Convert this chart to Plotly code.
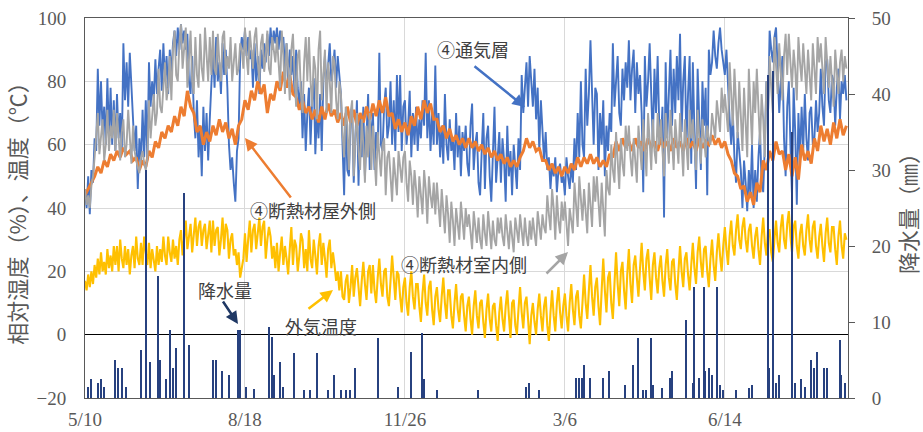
import pandas as pd
import plotly.graph_objects as go

# ---------------- data ----------------
start_date = "2018-05-10"

# daily readings from 5/10 (④通気層, %)
vent_layer = [
    45, 40, 50, 38, 52, 48, 62, 58, 84, 66, 80, 64, 72, 60, 81, 62, 78, 60, 74, 58,
    76, 62, 70, 58, 92, 74, 86, 72, 89, 78, 70, 58, 66, 46, 62, 54, 71, 56, 74, 55,
    86, 72, 80, 74, 87, 76, 84, 90, 77, 92, 80, 88, 76, 90, 82, 92, 96, 88, 97, 90,
    98, 92, 96, 90, 95, 80, 76, 88, 70, 62, 74, 56, 66, 50, 72, 58, 70, 55, 68, 80,
    90, 78, 94, 80, 86, 76, 92, 82, 90, 78, 60, 52, 56, 48, 42, 58, 62, 88, 94, 90,
    96, 88, 94, 87, 90, 78, 92, 80, 88, 76, 90, 84, 92, 86, 95, 88, 97, 90, 96, 92,
    97, 90, 96, 92, 94, 84, 92, 80, 90, 82, 88, 76, 90, 78, 72, 80, 62, 76, 58, 70,
    78, 60, 74, 81, 57, 70, 62, 76, 58, 80, 88, 78, 86, 92, 80, 84, 90, 78, 88, 82,
    76, 60, 44, 70, 52, 50, 68, 71, 48, 62, 74, 47, 70, 56, 72, 50, 66, 76, 52, 64,
    70, 52, 64, 58, 89, 60, 58, 72, 78, 62, 66, 80, 60, 74, 58, 82, 64, 82, 58, 72,
    74, 60, 66, 77, 56, 70, 60, 72, 58, 68, 62, 74, 66, 89, 62, 74, 58, 70, 60, 85,
    60, 70, 56, 66, 54, 76, 60, 55, 68, 58, 62, 52, 70, 56, 66, 50, 64, 58, 66, 54,
    50, 66, 73, 52, 60, 64, 48, 44, 58, 70, 46, 62, 66, 50, 42, 60, 72, 48, 56, 64,
    48, 62, 55, 42, 66, 50, 58, 44, 60, 52, 46, 62, 52, 82, 70, 78, 86, 72, 88, 80,
    72, 84, 68, 78, 58, 74, 62, 55, 64, 52, 56, 46, 54, 50, 56, 45, 52, 54, 48, 50,
    44, 56, 50, 46, 54, 48, 62, 52, 70, 56, 80, 60, 56, 84, 66, 76, 93, 72, 60, 78,
    76, 52, 70, 60, 74, 50, 66, 58, 70, 64, 92, 72, 80, 88, 70, 66, 84, 74, 86, 78,
    93, 74, 84, 90, 70, 86, 76, 82, 70, 45, 88, 72, 80, 92, 76, 60, 84, 70, 88, 66,
    60, 72, 37, 86, 62, 78, 90, 66, 84, 70, 88, 74, 95, 64, 80, 88, 60, 76, 88, 54,
    86, 64, 46, 84, 70, 52, 80, 66, 78, 44, 90, 82, 86, 96, 88, 84, 92, 97, 90, 86,
    82, 90, 76, 68, 60, 70, 56, 48, 64, 58, 52, 40, 55, 48, 39, 52, 44, 60, 40, 52,
    42, 56, 64, 48, 45, 60, 80, 70, 96, 90, 86, 94, 97, 84, 70, 80, 88, 62, 50, 72,
    80, 60, 44, 78, 64, 41, 70, 56, 72, 58, 76, 62, 55, 70, 72, 60, 62, 74, 64, 70,
    84, 72, 66, 86, 87, 74, 70, 82, 80, 66, 78, 84, 68, 80, 76, 82, 74,
]

# daily readings from 5/10 (④断熱材室内側, %)
insul_inner = [
    46, 41, 44, 40, 47, 50, 56, 62, 70, 57, 64, 68, 55, 60, 71, 58, 66, 62, 71, 58,
    70, 62, 55, 64, 68, 56, 60, 71, 62, 54, 66, 58, 55, 53, 51, 56, 58, 54, 52, 56,
    74, 62, 68, 76, 66, 70, 84, 72, 70, 80, 86, 74, 78, 88, 74, 90, 96, 82, 80, 92,
    98, 84, 90, 97, 78, 88, 96, 80, 76, 94, 82, 78, 95, 84, 80, 97, 86, 80, 94, 82,
    96, 84, 82, 95, 86, 80, 94, 96, 82, 88, 84, 94, 80, 86, 92, 82, 84, 92, 90, 84,
    97, 88, 82, 96, 90, 84, 94, 97, 86, 80, 92, 95, 83, 88, 96, 84, 82, 94, 90, 86,
    94, 84, 78, 96, 88, 76, 92, 84, 74, 90, 95, 82, 72, 88, 90, 76, 70, 86, 94, 80,
    94, 80, 72, 88, 84, 68, 90, 96, 74, 82, 90, 70, 86, 80, 70, 88, 86, 74, 68, 80,
    76, 64, 56, 72, 66, 52, 70, 74, 50, 62, 70, 58, 52, 68, 60, 48, 66, 56, 70, 52,
    66, 56, 47, 64, 58, 50, 60, 62, 44, 56, 58, 50, 42, 56, 50, 44, 58, 52, 48, 56,
    58, 48, 42, 55, 50, 41, 52, 46, 37, 50, 44, 38, 52, 46, 35, 50, 44, 40, 48, 38,
    48, 40, 34, 46, 40, 32, 44, 38, 29, 42, 36, 28, 40, 34, 30, 42, 36, 30, 40, 34,
    38, 32, 27, 39, 34, 29, 37, 30, 27, 38, 32, 28, 39, 34, 27, 36, 30, 28, 37, 32,
    37, 31, 28, 38, 33, 27, 36, 30, 26, 37, 32, 29, 38, 33, 28, 37, 31, 28, 36, 30,
    37, 32, 28, 39, 34, 30, 38, 34, 32, 44, 38, 33, 46, 40, 30, 44, 36, 32, 42, 36,
    42, 34, 28, 40, 36, 32, 48, 40, 34, 50, 42, 36, 46, 40, 32, 48, 40, 34, 50, 42,
    50, 40, 34, 48, 40, 31, 52, 46, 44, 60, 52, 48, 64, 56, 46, 62, 54, 50, 66, 58,
    66, 56, 50, 62, 56, 48, 66, 58, 52, 68, 60, 50, 70, 62, 52, 68, 58, 54, 70, 60,
    68, 58, 50, 70, 62, 54, 71, 62, 52, 68, 60, 54, 70, 60, 50, 68, 60, 52, 71, 62,
    68, 60, 52, 71, 64, 54, 68, 62, 56, 66, 62, 60, 70, 66, 62, 74, 68, 64, 78, 70,
    76, 70, 64, 86, 76, 66, 84, 74, 62, 80, 70, 58, 78, 68, 56, 84, 74, 60, 80, 70,
    84, 72, 60, 76, 68, 56, 80, 70, 88, 78, 70, 94, 86, 76, 92, 84, 74, 88, 95, 82,
    95, 86, 78, 90, 84, 74, 94, 86, 80, 92, 84, 76, 90, 82, 74, 92, 84, 76, 94, 86,
    92, 84, 76, 94, 86, 78, 88, 80, 72, 90, 82, 76, 86, 90, 80, 88, 84,
]

# daily readings from 5/10 (外気温度, ℃)
outdoor_temp = [
    17, 14, 19, 15, 20, 16, 22, 18, 24, 19, 26, 20, 23, 19, 27, 21, 25, 20, 28, 22,
    28, 20, 30, 24, 21, 28, 22, 27, 19, 25, 28, 21, 31, 24, 22, 29, 22, 31, 26, 22,
    29, 21, 27, 24, 20, 28, 22, 27, 23, 31, 25, 22, 31, 26, 23, 30, 24, 28, 22, 30,
    33, 25, 30, 36, 27, 32, 35, 26, 31, 37, 28, 34, 36, 28, 33, 35, 27, 32, 36, 26,
    36, 28, 33, 34, 25, 30, 37, 27, 35, 33, 24, 30, 32, 25, 27, 22, 26, 18, 21, 24,
    32, 23, 30, 36, 26, 33, 35, 27, 32, 37, 28, 34, 36, 24, 30, 34, 31, 24, 28, 21,
    29, 20, 26, 31, 22, 28, 24, 19, 27, 34, 22, 30, 28, 20, 25, 32, 30, 21, 27, 20,
    33, 24, 21, 30, 25, 19, 28, 32, 22, 29, 24, 18, 27, 30, 21, 26, 22, 17, 20, 14,
    20, 12, 11, 17, 19, 10, 15, 22, 12, 18, 21, 14, 9, 17, 23, 16, 11, 20, 22, 13,
    22, 14, 10, 18, 24, 16, 12, 20, 21, 12, 9, 17, 25, 18, 11, 20, 19, 12, 7, 15,
    18, 10, 6, 15, 20, 12, 8, 16, 16, 9, 4, 13, 19, 10, 6, 15, 17, 8, 3, 12,
    15, 8, 4, 12, 18, 10, 5, 14, 14, 6, 2, 10, 16, 8, 4, 12, 13, 6, 1, 9,
    12, 5, 0, 9, 14, 6, 2, 10, 11, 4, -1, 8, 13, 5, 1, 9, 10, 3, -2, 7,
    12, 5, 1, 9, 14, 6, -1, 10, 11, 3, 0, 8, 15, 7, 2, 10, 12, 5, -3, 6,
    10, 4, 0, 8, 13, 6, 1, 9, 12, 3, -2, 7, 14, 6, 1, 10, 15, 7, 2, 9,
    13, 6, 1, 10, 16, 8, 3, 12, 14, 6, 2, 10, 19, 10, 5, 14, 22, 12, 6, 15,
    18, 9, 3, 14, 24, 14, 7, 18, 20, 10, 5, 16, 26, 16, 9, 20, 23, 14, 8, 19,
    27, 16, 10, 22, 25, 18, 12, 21, 29, 20, 14, 24, 27, 18, 11, 22, 26, 18, 13, 21,
    25, 17, 12, 22, 27, 18, 14, 23, 24, 16, 11, 20, 28, 20, 15, 24, 26, 19, 14, 22,
    29, 21, 16, 26, 31, 23, 18, 27, 28, 20, 15, 24, 30, 22, 17, 26, 32, 25, 20, 28,
    34, 27, 22, 31, 36, 28, 25, 33, 38, 30, 27, 34, 37, 30, 26, 33, 35, 28, 24, 31,
    34, 27, 22, 31, 37, 29, 25, 33, 33, 26, 23, 30, 36, 29, 26, 34, 38, 30, 27, 35,
    39, 31, 26, 34, 36, 28, 24, 32, 35, 28, 25, 33, 38, 30, 26, 34, 36, 28, 24, 31,
    35, 28, 23, 32, 37, 29, 26, 34, 34, 27, 22, 31, 36, 28, 24, 32, 30,
]

# readings every 2 days from 5/10 (④断熱材屋外側, %)
insul_outer = [
    44, 46, 48, 50, 53, 51, 55, 53, 57, 55,
    58, 56, 59, 57, 58, 55, 56, 52, 55, 53,
    58, 56, 61, 59, 64, 62, 66, 64, 69, 66,
    72, 69, 77, 72, 70, 64, 66, 60, 64, 61,
    66, 63, 68, 64, 67, 62, 65, 60, 66, 68,
    74, 71, 77, 74, 80, 76, 79, 70, 76, 74,
    80, 77, 83, 78, 82, 76, 75, 71, 74, 70,
    72, 68, 71, 67, 72, 68, 73, 69, 71, 67,
    70, 66, 72, 67, 71, 66, 70, 67, 72, 68,
    73, 69, 74, 70, 75, 69, 70, 65, 68, 64,
    67, 63, 69, 66, 72, 68, 74, 70, 73, 68,
    68, 64, 66, 62, 65, 61, 63, 60, 62, 59,
    62, 59, 61, 58, 60, 57, 59, 56, 58, 55,
    57, 54, 56, 53, 55, 53, 56, 58, 62, 59,
    61, 58, 59, 55, 55, 52, 54, 51, 53, 50,
    53, 51, 54, 52, 56, 53, 56, 54, 57, 54,
    56, 53, 55, 53, 57, 56, 61, 58, 62, 59,
    61, 58, 62, 59, 61, 58, 62, 59, 61, 58,
    62, 59, 61, 58, 62, 59, 61, 58, 62, 59,
    61, 58, 62, 59, 61, 60, 63, 60, 62, 59,
    61, 57, 55, 51, 50, 46, 47, 42, 45, 41,
    48, 45, 55, 52, 58, 55, 61, 57, 58, 52,
    57, 50, 56, 49, 60, 55, 58, 54, 62, 58,
    66, 61, 65, 60, 67, 62, 68, 63, 66,
]

rain_day = [  # days after 5/10
    2, 4, 8, 10, 12, 19, 21, 23, 26, 35, 38, 41, 46, 47, 51, 53, 55, 57,
    62, 65, 80, 82, 86, 90, 96, 97, 101, 106, 115, 117, 118, 122, 124, 131,
    137, 141, 145, 152, 156, 160, 163, 166, 169, 183, 196, 204, 211, 212,
    220, 246, 276, 278, 284, 307, 309, 311, 312, 316, 324, 328, 338, 343,
    346, 349, 351, 354, 355, 361, 366, 367, 376, 380, 381, 384, 387, 388,
    390, 392, 395, 397, 399, 407, 415, 417, 427, 428, 430, 432, 434, 442,
    444, 448, 450, 454, 456, 458, 462, 464, 472, 473, 475,
]
rain_mm = [
    1.5, 2.5, 2, 2.5, 1.5, 5, 4, 4, 1.5, 6.3, 30, 4.8, 16, 5, 2.5, 9, 4, 6.6,
    27, 7, 5, 5, 3.6, 3, 9, 9, 1.5, 1.2, 9.3, 8, 3, 4.8, 1.5, 5.9,
    1, 1, 5.9, 1, 3, 1, 1, 1, 4, 7.9, 1.5, 6, 8.6, 2.5,
    1, 1, 1.5, 2, 1, 2.6, 2.6, 2.6, 4.4, 2.6, 2.6, 3.6, 1.7, 4.4,
    7.9, 1, 1, 7.9, 1.7, 1.3, 2.6, 3.6, 10.2, 2, 14.6, 2.6, 14.6, 3.5,
    4, 3, 14.6, 1.7, 1, 1, 1.3, 1.7, 42.5, 4, 43, 2, 3, 35,
    2, 2.5, 1.5, 5, 4, 6, 4, 4, 7.6, 3, 2,
]

tick_dates = ["2018-05-10", "2018-08-18", "2018-11-26", "2019-03-06", "2019-06-14"]
tick_labels = ["5/10", "8/18", "11/26", "3/6", "6/14"]
x_end = "2019-08-30"

# ---------------- figure ----------------
t0 = pd.Timestamp(start_date)
def daily_x(vals, step=1):
    return pd.date_range(t0, periods=len(vals), freq=f"{step}D")
x_rain = [t0 + pd.Timedelta(days=d) for d in rain_day]

CJK = "Noto Sans CJK JP"
SERIF = "Liberation Serif"
TXT = "#404040"
LW = 1.9

fig = go.Figure()
fig.add_trace(go.Scatter(x=daily_x(vent_layer), y=vent_layer, mode="lines",
                         name="④通気層", line=dict(color="#4472C4", width=LW)))
fig.add_trace(go.Scatter(x=daily_x(insul_outer, 2), y=insul_outer, mode="lines",
                         name="④断熱材屋外側", line=dict(color="#ED7D31", width=3)))
fig.add_trace(go.Scatter(x=daily_x(insul_inner), y=insul_inner, mode="lines",
                         name="④断熱材室内側", line=dict(color="#A5A5A5", width=LW)))
fig.add_trace(go.Scatter(x=daily_x(outdoor_temp), y=outdoor_temp, mode="lines",
                         name="外気温度", line=dict(color="#FFC000", width=2.1)))
fig.add_trace(go.Bar(x=x_rain, y=rain_mm, name="降水量", yaxis="y2",
                     marker=dict(color="#27417F", line=dict(width=0)),
                     width=86400000 * 0.9))

fig.update_layout(
    width=923, height=432,
    margin=dict(l=85, r=75, t=18, b=34),
    paper_bgcolor="white", plot_bgcolor="white",
    showlegend=False, bargap=0,
    xaxis=dict(
        type="date", range=[start_date, x_end], automargin=False,
        tickvals=tick_dates, ticktext=tick_labels,
        showgrid=True, gridcolor="#D9D9D9", gridwidth=1,
        showline=True, linecolor="#595959", linewidth=1, mirror=True,
        ticks="", ticklabelstandoff=4,
        tickfont=dict(family=SERIF, size=19, color="#595959"),
    ),
    yaxis=dict(
        range=[-20, 100], tickvals=[-20, 0, 20, 40, 60, 80, 100], automargin=False,
        ticktext=["−20", "0", "20", "40", "60", "80", "100"],
        showgrid=True, gridcolor="#D9D9D9", gridwidth=1,
        zeroline=True, zerolinecolor="#000000", zerolinewidth=1.3,
        showline=True, linecolor="#595959", linewidth=1, mirror=True,
        ticks="", ticklabelstandoff=14,
        tickfont=dict(family=SERIF, size=19, color="#595959"),
        title=dict(text="相対湿度（%）、温度（℃）", standoff=6,
                   font=dict(family=CJK, size=22, color="#595959")),
    ),
    yaxis2=dict(
        overlaying="y", side="right", range=[0, 50], automargin=False,
        tickvals=[0, 10, 20, 30, 40, 50],
        showgrid=False, zeroline=False,
        showline=True, linecolor="#595959", linewidth=1,
        ticks="outside", ticklen=6, tickcolor="#595959",
        ticklabelstandoff=13,
        tickfont=dict(family=SERIF, size=19, color="#595959"),
        title=dict(text="降水量（㎜）", standoff=6,
                   font=dict(family=CJK, size=22, color="#595959")),
    ),
)

def px_to_paper(px, py):
    return (px - 85) / 763, (398 - py) / 380

texts = [
    ("④通気層", 473, 49),
    ("④断熱材屋外側", 313, 210),
    ("④断熱材室内側", 464, 264),
    ("外気温度", 321, 326),
    ("降水量", 225, 290),
]
for t, px, py in texts:
    xp, yp = px_to_paper(px, py)
    fig.add_annotation(x=xp, y=yp, xref="paper", yref="paper", text=t,
                       showarrow=False, xanchor="center", yanchor="middle",
                       font=dict(family=CJK, size=18, color=TXT))

arrows = [  # head px, head py, tail dx, tail dy, colour
    (525, 107, -52, -42, "#4472C4"),
    (245, 138, 47, 61, "#ED7D31"),
    (568, 252, -23, 23, "#A5A5A5"),
    (333, 290, -26, 20, "#FFC000"),
    (238, 324, -16, -24, "#1F3864"),
]
for hx, hy, dx, dy, c in arrows:
    xp, yp = px_to_paper(hx, hy)
    fig.add_annotation(x=xp, y=yp, xref="paper", yref="paper", text="",
                       showarrow=True, ax=dx, ay=dy, axref="pixel", ayref="pixel",
                       arrowhead=2, arrowsize=1, arrowwidth=2.5, arrowcolor=c)

fig.write_html("out.html")
